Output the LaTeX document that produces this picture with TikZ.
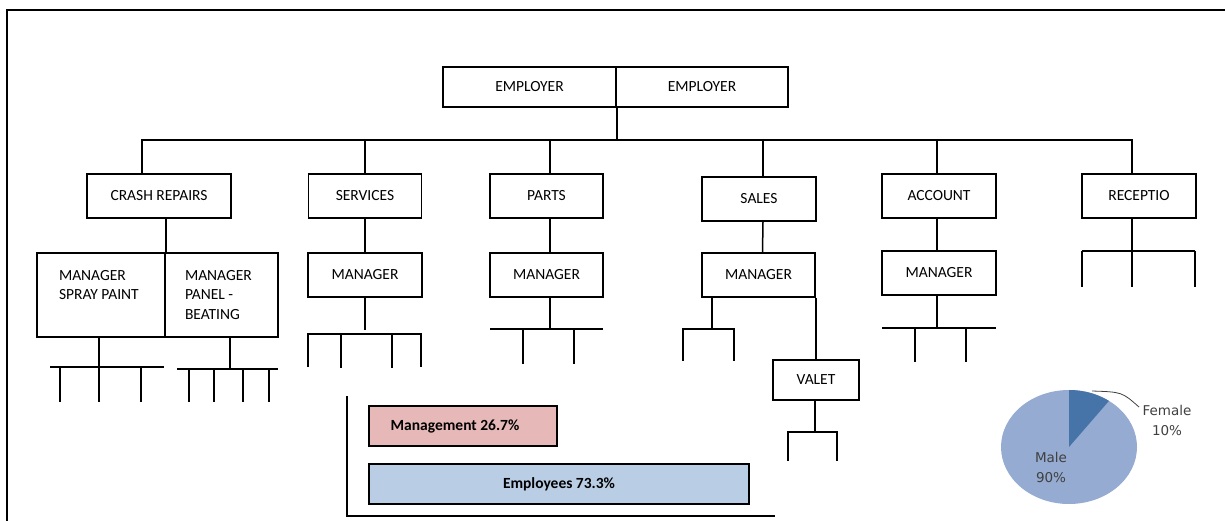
\documentclass[tikz,border=0pt]{standalone}
\usepackage{fontspec}
\setmainfont{Carlito}
\newfontfamily\piefont{DejaVu Sans}
\usepackage{tikz}
\usetikzlibrary{positioning,calc}

\definecolor{mgmtred}{RGB}{230,184,183}
\definecolor{empblue}{RGB}{185,205,229}
\definecolor{malefill}{RGB}{149,171,210}
\definecolor{femalefill}{RGB}{70,116,168}
\definecolor{pietext}{RGB}{64,64,64}

\tikzset{
  orgbox/.style 2 args={draw, line width=1.5pt, inner sep=0pt,
    minimum width=#1pt, minimum height=#2pt, font=\fontsize{15.5}{19.5}\selectfont},
  boxtext/.style={inner sep=0pt, align=left, font=\fontsize{15.5}{19.5}\selectfont},
  barbox/.style 2 args={draw, line width=1.5pt, inner sep=0pt, fill=#2,
    minimum width=#1pt, minimum height=40pt, font=\bfseries\fontsize{15.5}{18}\selectfont},
  pielabel/.style={inner sep=0pt, align=center, text=pietext,
    font=\piefont\fontsize{13.5}{20}\selectfont}
}

\begin{document}
\begin{tikzpicture}[x=1pt, y=-1pt, line width=1.5pt]
\useasboundingbox (0,0) rectangle (1225,521);
% Frame
\draw (7,521) -- (7,10) -- (1225,10);

% Top level
\node[orgbox={173}{40}] (emp1) at (529.5,87) {EMPLOYER};
\node[orgbox={172}{40}] (emp2) at (702,87) {EMPLOYER};
\coordinate (bus) at (616,140);
\draw (emp1.south east) -- (emp1.south east |- bus);

% Departments
\node[orgbox={144}{44}] (crash) at (159,196) {CRASH REPAIRS};
\node[orgbox={113}{44}] (serv) at (365,196) {SERVICES};
\node[orgbox={113}{44}] (parts) at (546.5,196) {PARTS};
\node[orgbox={114}{44}] (sales) at (759,199) {SALES};
\node[orgbox={114}{44}] (acct) at (939,196) {ACCOUNT};
\node[orgbox={114}{44}] (recep) at (1139,196) {RECEPTIO};
\foreach \n/\dx in {crash/-17, serv/0, parts/3.5, sales/4, acct/-2, recep/-7}
  \draw ([xshift=\dx pt]\n.north) |- (bus);

% Managers
\node[orgbox={128}{84}] (spray) at (101,295) {};
\node[orgbox={113}{84}] (panel) at (221.5,295) {};
\node[boxtext, anchor=north west] at ($(spray.north west)+(22,17)$) {MANAGER\\SPRAY PAINT};
\node[boxtext, anchor=north west] at ($(panel.north west)+(20,17)$) {MANAGER\\PANEL -\\BEATING};
\node[orgbox={114}{44}] (smgr) at (365,275) {MANAGER};
\node[orgbox={113}{44}] (pmgr) at (546.5,275) {MANAGER};
\node[orgbox={113}{44}] (slmgr) at (758.5,275) {MANAGER};
\node[orgbox={114}{44}] (amgr) at (939,273) {MANAGER};
\node[orgbox={86}{40}] (valet) at (816,380) {VALET};

\draw (spray.north east) -- (spray.north east |- crash.south);
\draw (serv.south) -- (smgr.north);
\draw ([xshift=3.5pt]parts.south) -- ([xshift=3.5pt]pmgr.north);
\draw ([xshift=4pt]sales.south) -- ([xshift=4pt]slmgr.north);
\draw ([xshift=-2pt]acct.south) -- ([xshift=-2pt]amgr.north);
\draw (slmgr.south east) -- (slmgr.south east |- valet.north);

% Staff stubs
\draw ([xshift=-2pt]spray.south) -- (99,367);
\draw (50,367) -- (164,367);
\foreach \x in {60,99,141} \draw (\x,367) -- (\x,402);

\draw ([xshift=8.5pt]panel.south) -- (230,369);
\draw (177,369) -- (278,369);
\foreach \x in {189,214,243,269} \draw (\x,369) -- (\x,402);

\draw (smgr.south) -- (365,330);
\draw (308,367) -- (308,334) -- (421,334) -- (421,367);
\foreach \x in {341,392} \draw (\x,334) -- (\x,368);

\draw ([xshift=3.5pt]pmgr.south) -- (550,329);
\draw (490,329) -- (603,329);
\foreach \x in {523,574} \draw (\x,329) -- (\x,364);

\draw ([xshift=-46.5pt]slmgr.south) -- (712,329);
\draw (683,361) -- (683,329) -- (734,329) -- (734,361);

\draw ([xshift=-1pt]valet.south) -- (815,432);
\draw (788,461) -- (788,432) -- (837,432) -- (837,461);

\draw ([xshift=-2pt]amgr.south) -- (937,328);
\draw (882,328) -- (996,328);
\foreach \x in {915,966} \draw (\x,328) -- (\x,362);

\draw ([xshift=-7pt]recep.south) -- (1132,251);
\draw (1082,251) -- (1195,251);
\foreach \x in {1082,1132,1195} \draw (\x,251) -- (\x,287);

% Bar chart
\draw (347,396) -- (347,516) -- (775,516);
\node[barbox={188}{mgmtred}] (mgmt) at (463,426) {\hspace*{-16pt}Management 26.7\%};
\node[barbox={380}{empblue}] (staff) at (559,484) {Employees 73.3\%};

% Pie chart
\coordinate (pc) at (1069,447);
\fill[malefill] (pc) ellipse[x radius=68, y radius=57];
\fill[femalefill] (pc) -- ++(0,-57) arc[start angle=-90, end angle=-54, x radius=68, y radius=57] -- cycle;
\node[pielabel] (female) at (1167,420) {Female\\10\%};
\node[pielabel] (male) at (1051,467) {Male\\90\%};
\coordinate (lead) at (1092,391);
\draw[line width=0.8pt, pietext] (lead) .. controls (1122,392) .. ([xshift=-28pt,yshift=-3pt]female.north);
\end{tikzpicture}
\end{document}
